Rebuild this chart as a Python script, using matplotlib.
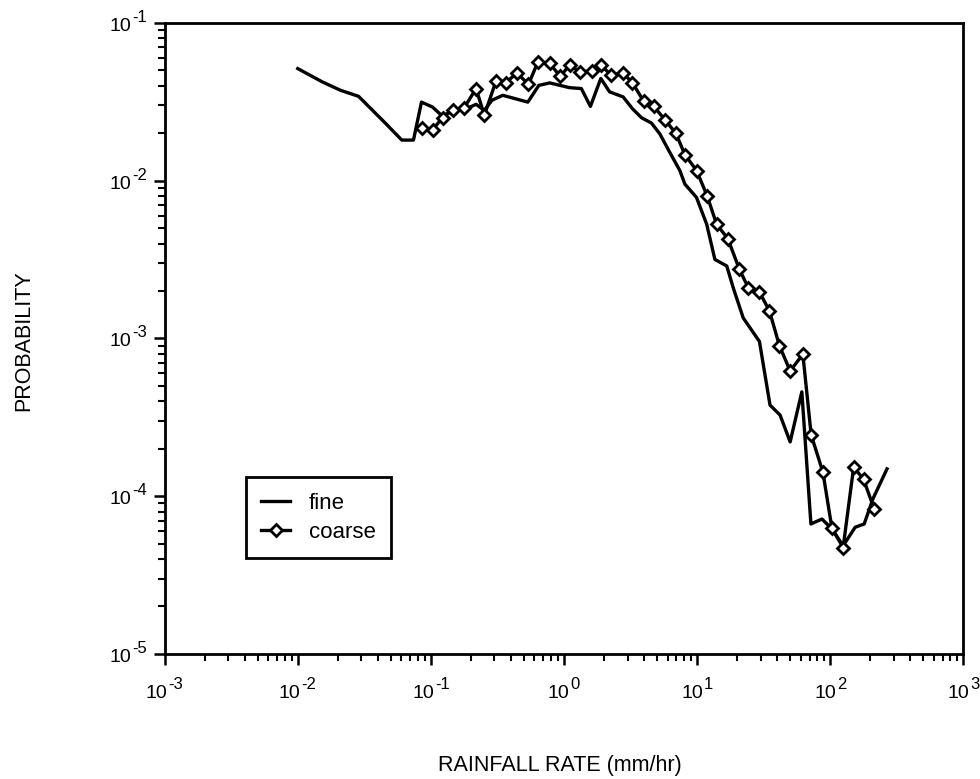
import matplotlib
matplotlib.use("Agg")
import matplotlib.pyplot as plt
from matplotlib.ticker import NullFormatter, LogLocator
import numpy as np

plt.rcParams['font.family'] = ['Liberation Sans', 'DejaVu Sans']

# fine resolution
fine_rate = [0.01, 0.0153, 0.021, 0.0286, 0.0459, 0.0605, 0.074, 0.085, 0.103,
             0.1225, 0.1456, 0.178, 0.2186, 0.252, 0.288, 0.347, 0.535, 0.647,
             0.78, 1.10, 1.35, 1.58, 1.89, 2.2, 2.78, 3.27, 3.82, 4.54, 5.25,
             6.24, 7.42, 8.09, 9.9, 11.8, 13.6, 16.7, 18.7, 22.2, 29.4, 35.3,
             42.0, 50.0, 61.2, 71.6, 86.7, 103, 125, 154, 180, 209, 267]
fine_prob = [0.0514, 0.0423, 0.0374, 0.0343, 0.023, 0.0181, 0.0181, 0.0315, 0.0293,
             0.0256, 0.0279, 0.0282, 0.0305, 0.0279, 0.0324, 0.0348, 0.0315, 0.0402,
             0.0417, 0.0389, 0.0384, 0.0296, 0.0445, 0.0366, 0.034, 0.0286, 0.0251,
             0.0232, 0.0198, 0.0151, 0.0116, 0.00953, 0.00783, 0.0053, 0.00317,
             0.00288, 0.00209, 0.00135, 0.000957, 0.000378, 0.000327, 0.000221,
             0.000459, 6.67e-5, 7.17e-5, 6.2e-5, 4.85e-5, 6.36e-5, 6.67e-5, 9.6e-5,
             0.000149]

# coarse resolution
coarse_rate = [0.0851, 0.103, 0.1225, 0.1456, 0.178, 0.2186, 0.252, 0.309, 0.368,
               0.442, 0.541, 0.637, 0.78, 0.938, 1.10, 1.33, 1.61, 1.89, 2.27,
               2.78, 3.27, 3.97, 4.73, 5.72, 6.92, 8.09, 9.91, 11.9, 14.0, 17.0,
               20.8, 24.3, 29.4, 34.9, 41.5, 50.0, 62.3, 71.9, 88.1, 103, 125,
               150, 178, 214]
coarse_prob = [0.0217, 0.0211, 0.0251, 0.0282, 0.029, 0.0384, 0.026, 0.043, 0.0419,
               0.0483, 0.0408, 0.0567, 0.0554, 0.0459, 0.054, 0.049, 0.0497, 0.054,
               0.0467, 0.0483, 0.0417, 0.0319, 0.0296, 0.0244, 0.020, 0.01465,
               0.01159, 0.00802, 0.0053, 0.0043, 0.00274, 0.00209, 0.00197, 0.0015,
               0.000902, 0.000622, 0.000794, 0.000245, 0.000142, 6.26e-5, 4.73e-5,
               0.000153, 0.000128, 8.3e-5]

x_exps = [-3, -2, -1, 0, 1, 2, 3]
y_exps = [-5, -4, -3, -2, -1]

fig = plt.figure(figsize=(9.8, 7.79), dpi=100)
ax = fig.add_axes([0.168, 0.1605, 0.815, 0.81])

ax.plot(fine_rate, fine_prob, color="black", lw=2.4, label="fine")
ax.plot(coarse_rate, coarse_prob, color="black", lw=2.4, marker="D", ms=6.5,
        mfc="white", mec="black", mew=2.0, label="coarse")

ax.set_xscale("log")
ax.set_yscale("log")
ax.set_xlim(1e-3, 1e3)
ax.set_ylim(1e-5, 1e-1)
ax.xaxis.set_major_formatter(NullFormatter())
ax.xaxis.set_minor_formatter(NullFormatter())
ax.yaxis.set_major_formatter(NullFormatter())
ax.yaxis.set_minor_formatter(NullFormatter())

for s in ax.spines.values():
    s.set_linewidth(2.0)
ax.tick_params(which="major", direction="out", length=8, width=1.8,
               top=False, right=False)
ax.tick_params(which="minor", direction="out", length=5, width=1.5,
               top=False, right=False)

# tick labels drawn as "10" plus a raised exponent, like the original
pt = 0.72  # points per pixel at 100 dpi
renderer = fig.canvas.get_renderer()
for k in x_exps:
    base = ax.annotate("10", xy=(10.0 ** k, 0), xycoords=("data", "axes fraction"),
                       xytext=(0, -44 * pt), textcoords="offset points",
                       ha="left", va="baseline", fontsize=14)
    exp = ax.annotate(str(k), xy=(10.0 ** k, 0), xycoords=("data", "axes fraction"),
                      xytext=(0, -35 * pt), textcoords="offset points",
                      ha="left", va="baseline", fontsize=12)
    wb = base.get_window_extent(renderer).width
    we = exp.get_window_extent(renderer).width
    left = -(wb + 1 + we) / 2
    base.set_position((left * pt, -44 * pt))
    exp.set_position(((left + wb + 1) * pt, -35 * pt))

for k in y_exps:
    exp = ax.annotate(str(k), xy=(0, 10.0 ** k), xycoords=("axes fraction", "data"),
                      xytext=(-18 * pt, 1 * pt), textcoords="offset points",
                      ha="right", va="baseline", fontsize=12)
    we = exp.get_window_extent(renderer).width
    ax.annotate("10", xy=(0, 10.0 ** k), xycoords=("axes fraction", "data"),
                xytext=(-(18 + we + 1) * pt, -8 * pt), textcoords="offset points",
                ha="right", va="baseline", fontsize=14)

fig.text(560 / 980, 1 - 766 / 779, "RAINFALL RATE (mm/hr)", fontsize=15.5,
         ha="center", va="center")
fig.text(24 / 980, 1 - 341 / 779, "PROBABILITY", fontsize=15.5,
         ha="center", va="center", rotation=90)

leg = ax.legend(loc="lower left", bbox_to_anchor=(0.1015, 0.152), fontsize=16,
                frameon=True, fancybox=False, handlelength=1.3, borderpad=0.7,
                labelspacing=0.35, handletextpad=0.85, borderaxespad=0)
leg.get_frame().set_edgecolor("black")
leg.get_frame().set_linewidth(2.0)
leg.get_frame().set_alpha(1)

fig.savefig("out.png", dpi=100, facecolor="white")
